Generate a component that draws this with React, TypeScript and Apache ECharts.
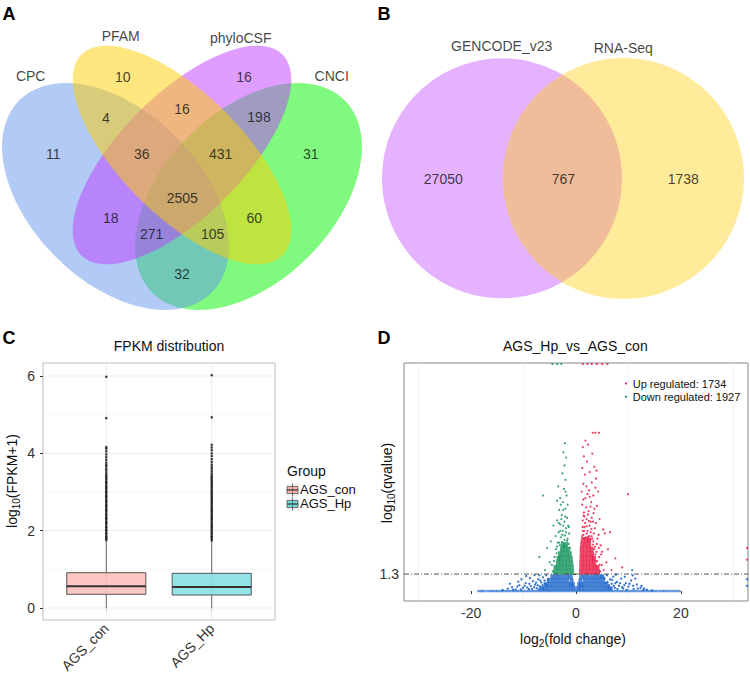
import React, { useEffect, useRef } from 'react';
import * as echarts from 'echarts';

const FONT = '"Liberation Sans", Arial, Helvetica, sans-serif';

// ---------- Panel A : four-set Venn ----------
const vennACategories = ['CPC', 'PFAM', 'phyloCSF', 'CNCI'];
const vennACounts = [11, 10, 16, 31, 4, 16, 198, 36, 431, 2505, 18, 60, 271, 105, 32];

// ---------- Panel B : two-set Venn ----------
const vennBCategories = ['GENCODE_v23', 'RNA-Seq'];
const vennBCounts = [27050, 767, 1738];

// ---------- Panel C : boxplot ----------
const boxCategories = ['AGS_con', 'AGS_Hp'];
const boxTitle = 'FPKM distribution';
// [lower whisker, q1, median, q3, upper whisker]
const boxStats = [
  [0, 0.354, 0.56, 0.913, 1.75],
  [0, 0.336, 0.543, 0.897, 1.74],
];
const conOutliers = [1.76, 1.8, 1.83, 1.87, 1.92, 1.95, 2.0, 2.03, 2.08, 2.11, 2.16, 2.2, 2.23, 2.28, 2.32, 2.35, 2.4, 2.43, 2.48, 2.52, 2.55, 2.6, 2.64, 2.67, 2.72, 2.76, 2.79, 2.84, 2.88, 2.91, 2.96, 3.0, 3.03, 3.08, 3.12, 3.15, 3.2, 3.24, 3.27, 3.32, 3.36, 3.4, 3.44, 3.49, 3.55, 3.6, 3.66, 3.7, 3.76, 3.83, 3.9, 3.97, 4.05, 4.12, 4.16, 4.91, 5.98];
const hpOutliers = [1.75, 1.79, 1.83, 1.86, 1.91, 1.95, 1.99, 2.03, 2.07, 2.11, 2.15, 2.19, 2.23, 2.27, 2.31, 2.35, 2.39, 2.43, 2.47, 2.51, 2.55, 2.59, 2.63, 2.67, 2.71, 2.75, 2.79, 2.83, 2.87, 2.91, 2.95, 2.99, 3.03, 3.07, 3.11, 3.15, 3.19, 3.23, 3.27, 3.31, 3.35, 3.39, 3.43, 3.48, 3.54, 3.6, 3.65, 3.71, 3.78, 3.85, 3.93, 4.0, 4.08, 4.15, 4.22, 4.93, 6.02];
const boxYTicks = [0, 2, 4, 6];

// ---------- Panel D : volcano ----------
const volcanoTitle = 'AGS_Hp_vs_AGS_con';
const volcanoLegend = ['Up regulated', 'Down regulated'];
const volcanoCounts = [1734, 1927];
const volcanoXTicks = [-20, 0, 20];
const volcanoThreshold = 1.3;

const upCore = [
  [0.95, 1.45], [1.6, 1.45], [2.25, 1.45], [2.9, 1.45], [3.55, 1.45], [4.2, 1.45],
  [1.0, 1.8], [1.65, 1.8], [2.3, 1.8], [2.95, 1.8], [3.6, 1.8], [4.1, 1.8],
  [1.0, 2.15], [1.65, 2.15], [2.3, 2.15], [2.95, 2.15], [3.5, 2.15],
  [1.05, 2.5], [1.7, 2.5], [2.35, 2.5], [3.0, 2.5], [3.45, 2.5],
  [1.1, 2.85], [1.75, 2.85], [2.4, 2.85], [3.05, 2.85],
  [1.1, 3.2], [1.75, 3.2], [2.4, 3.2], [2.95, 3.2],
  [1.2, 3.55], [1.85, 3.55], [2.5, 3.55],
  [1.3, 3.9], [1.95, 3.9], [2.5, 3.9],
];
const upPoints = [
  [4.6, 1.5], [4.9, 2.0], [4.4, 2.6], [3.9, 3.0], [3.6, 3.4], [3.3, 3.8], [3.0, 4.2], [2.8, 4.5], [1.4, 4.3], [2.2, 4.6],
  [3.4, 4.4], [4.1, 4.0], [1.6, 4.9], [2.6, 5.0], [3.8, 5.2], [1.3, 5.4], [2.0, 5.5], [3.0, 5.6], [4.5, 5.5], [5.2, 4.7],
  [1.5, 6.0], [2.4, 6.1], [3.5, 6.3], [1.2, 6.6], [2.9, 6.8], [4.0, 6.5], [1.8, 7.1], [3.3, 7.3], [1.1, 7.6], [2.5, 7.7],
  [4.2, 7.6], [1.4, 8.2], [3.0, 8.3], [3.8, 8.6], [1.7, 8.9], [2.6, 9.1], [1.2, 9.4], [3.5, 9.5], [2.1, 9.9], [1.5, 10.3],
  [3.1, 10.5], [1.3, 11.0], [2.3, 11.2], [1.8, 11.5], [3.2, 12.1], [3.7, 12.1], [4.4, 12.1], [6.5, 4.5], [5.5, 4.4], [8.8, 1.8],
  [9.9, 7.4], [5.0, 3.0], [5.8, 2.2], [6.8, 1.6], [4.7, 3.5], [5.3, 1.6], [6.1, 3.2], [7.5, 2.5], [1.9, 4.1], [2.7, 3.9],
  [1.6, 5.7], [2.8, 5.3], [3.6, 4.8], [1.3, 4.6], [2.2, 7.4], [3.9, 9.2],
  [1.25, 4.9], [2.05, 4.95], [2.95, 4.75], [3.25, 5.3], [1.75, 5.2], [2.45, 5.35], [1.45, 5.75], [2.25, 5.85], [3.35, 5.95],
  [1.95, 6.4], [2.75, 6.45], [4.3, 4.3], [4.8, 2.8], [4.35, 3.3], [3.95, 3.6], [3.7, 2.8], [4.0, 2.3], [4.5, 2.0], [1.55, 4.6],
  [2.05, 4.4], [2.55, 4.2], [3.1, 4.0], [1.5, 4.05], [2.3, 4.15], [1.15, 4.2], [3.45, 3.2], [3.2, 3.55], [1.4, 7.0], [2.6, 7.2],
  [3.7, 7.9], [2.0, 8.0], [1.3, 17.35], [2.2, 17.35], [3.0, 17.35], [4.0, 17.35], [5.0, 17.35], [6.0, 17.35], [32.6, 2.4], [32.6, 3.3],
];
const downCore = [
  [-0.75, 1.45], [-1.4, 1.45], [-2.05, 1.45], [-2.7, 1.45], [-3.35, 1.45], [-4.0, 1.45],
  [-0.8, 1.8], [-1.45, 1.8], [-2.1, 1.8], [-2.75, 1.8], [-3.4, 1.8], [-3.9, 1.8],
  [-0.9, 2.15], [-1.55, 2.15], [-2.2, 2.15], [-2.85, 2.15], [-3.45, 2.15],
  [-1.0, 2.5], [-1.65, 2.5], [-2.3, 2.5], [-2.95, 2.5], [-3.35, 2.5],
  [-1.2, 2.85], [-1.85, 2.85], [-2.5, 2.85], [-3.05, 2.85],
  [-1.5, 3.2], [-2.1, 3.2], [-2.7, 3.2],
  [-1.9, 3.55], [-2.5, 3.55],
];
const downPoints = [
  [-4.4, 1.5], [-4.6, 2.0], [-4.1, 2.6], [-3.8, 3.2], [-3.5, 3.7], [-2.2, 3.9], [-2.9, 4.1], [-1.6, 4.0], [-3.3, 4.5], [-2.5, 4.6],
  [-1.9, 4.8], [-3.0, 5.1], [-2.2, 5.3], [-3.6, 5.4], [-1.7, 5.6], [-2.7, 5.8], [-3.2, 6.2], [-2.0, 6.3], [-2.5, 6.8], [-3.0, 7.1],
  [-1.8, 7.3], [-2.3, 7.8], [-3.4, 8.0], [-2.0, 8.5], [-2.6, 9.0], [-2.2, 9.6], [-1.9, 10.2], [-2.4, 10.6], [-2.1, 11.3], [-6.3, 7.3],
  [-5.5, 3.3], [-5.0, 2.2], [-4.8, 3.8], [-5.9, 1.6], [-7.0, 2.6], [-4.3, 5.0], [-1.4, 3.6], [-2.6, 4.3], [-3.9, 4.2], [-1.3, 4.4],
  [-2.8, 5.5], [-1.5, 5.0], [-3.7, 2.9], [-4.2, 2.3], [-3.6, 3.4], [-3.2, 3.7], [-2.65, 3.75], [-1.7, 3.85], [-2.1, 4.25],
  [-3.0, 4.6], [-1.9, 4.5], [-2.45, 5.0], [-3.3, 5.2], [-2.05, 5.7], [-2.4, 6.2], [-1.6, 6.6], [-2.9, 6.6], [-3.6, 6.9], [-2.0, 7.6],
  [-1.15, 3.3], [-2.35, 3.45], [-3.05, 3.5], [-1.35, 4.9], [-4.5, 17.35], [-3.6, 17.35], [-2.8, 17.35],
];
const nsCore = [
  [-4.5, 1.1], [-3.8, 1.1], [-3.1, 1.1], [-2.4, 1.1], [-1.7, 1.1], [-1.0, 1.1], [1.0, 1.1], [1.7, 1.1], [2.4, 1.1], [3.1, 1.1], [3.8, 1.1], [4.5, 1.1], [5.0, 1.1],
  [-5.2, 0.8], [-4.5, 0.8], [-3.8, 0.8], [-3.1, 0.8], [-2.4, 0.8], [-1.7, 0.8], [-0.85, 0.8], [0.85, 0.8], [1.7, 0.8], [2.4, 0.8], [3.1, 0.8], [3.8, 0.8], [4.5, 0.8], [5.2, 0.8],
  [-5.8, 0.5], [-5.1, 0.5], [-4.4, 0.5], [-3.7, 0.5], [-3.0, 0.5], [-2.3, 0.5], [-1.6, 0.5], [-1.0, 0.5], [-0.6, 0.5], [0.6, 0.5], [1.0, 0.5], [1.6, 0.5], [2.3, 0.5], [3.0, 0.5], [3.7, 0.5], [4.4, 0.5], [5.1, 0.5], [5.8, 0.5],
  [-6.6, 0.2], [-5.9, 0.2], [-5.2, 0.2], [-4.5, 0.2], [-3.8, 0.2], [-3.1, 0.2], [-2.4, 0.2], [-1.7, 0.2], [-1.0, 0.2], [-0.4, 0.2], [0.4, 0.2], [1.0, 0.2], [1.7, 0.2], [2.4, 0.2], [3.1, 0.2], [3.8, 0.2], [4.5, 0.2], [5.2, 0.2], [5.9, 0.2], [6.6, 0.2],
];
const nsBaseline = [-18.3, -17.6, -16.5, -15.6, -14.7, -13.8, -12.8, -11.8, -10.8, -9.8, -8.8, -7.8, -6.8, -5.8, -4.8, -3.8, -2.8, -1.8, -0.8, 0.2, 1.2, 2.2, 3.2, 4.2, 5.2, 6.2, 7.2, 8.2, 9.2, 10.2, 11.2, 12.2, 13.2, 14.2, 15.2, 16.3, 17.2, 18.3, 19.4];
const nsPoints = [
  [-14.0, 0.08], [-13.0, 0.18], [-12.2, 0.3], [-11.5, 0.12], [-10.8, 0.45], [-10.1, 0.25], [-9.6, 0.6], [-9.0, 0.15], [-8.6, 0.38], [-8.2, 0.75],
  [-7.8, 0.5], [-7.5, 0.22], [-7.2, 0.9], [-6.9, 0.35], [-6.6, 0.65], [-6.3, 1.05], [-6.0, 0.8], [-5.7, 1.2], [-5.5, 0.42], [-5.3, 0.95],
  [-7.0, 1.2], [-8.8, 1.0], [-11.0, 0.72], [-9.5, 1.15], [-12.6, 0.55], [-10.4, 0.9], [-7.9, 1.22],
  [-12.0, 0.1], [-11.2, 0.35], [-10.5, 0.12], [-9.8, 0.4], [-9.3, 0.28], [-8.9, 0.55], [-8.4, 0.15], [-8.0, 0.3], [-7.6, 0.65],
  [-7.3, 0.45], [-7.1, 0.12], [-6.8, 0.8], [-6.4, 0.45], [-6.2, 0.2], [-5.9, 0.55],
  [5.4, 1.0], [5.6, 0.6], [5.9, 1.2], [6.2, 0.3], [6.5, 0.9], [6.8, 0.55], [7.1, 1.1], [7.4, 0.25], [7.8, 0.7], [8.2, 0.4],
  [8.6, 0.95], [9.0, 0.2], [9.5, 0.6], [10.0, 0.35], [10.5, 0.8], [11.0, 0.15], [11.6, 0.5], [12.3, 0.25], [12.8, 0.1], [7.6, 1.25],
  [9.3, 1.1], [10.8, 1.2], [11.3, 0.95], [13.5, 0.1], [10.7, 1.6],
  [6.0, 0.7], [6.3, 0.45], [6.6, 0.15], [6.9, 0.85], [7.2, 0.4], [7.5, 0.6], [7.9, 0.15], [8.4, 0.6], [8.8, 0.3], [9.2, 0.45],
  [9.7, 0.1], [10.2, 0.55], [10.9, 0.4], [11.8, 0.2], [12.5, 0.4], [13.0, 0.2], [14.5, 0.05], [32.6, 0.4], [32.6, 0.9],
];

// ---------- layout (positions in page pixels, not data) ----------
const vennACountPos = [[53.3, 154], [122.7, 77.3], [244, 77.3], [310.7, 154], [106, 118], [182, 108.7], [259, 117.3], [141.7, 154], [220.7, 154], [182.3, 198.3], [110.7, 218.3], [254.3, 218.3], [151.7, 234.3], [212.7, 234.3], [182, 274.3]];
const vennACatPos = [[30.7, 76], [120.7, 36], [240.7, 37.7], [331.7, 76]];
// draw order: CNCI, CPC, phyloCSF, PFAM  [cx, cy, semi-major, semi-minor, angle]
const vennAShapes = [[248.5, 196.5, 136, 85, -45], [115.5, 196.5, 136, 85, 45], [182, 155, 142, 61, -45], [182, 155, 142, 61, 45]];
const vennAColors = ['rgba(0,245,0,0.5)', 'rgba(100,149,237,0.5)', 'rgba(191,62,255,0.5)', 'rgba(255,205,0,0.5)'];
const vennBShapes = [[502, 178.3, 120], [623.4, 178.5, 120.5]];
const vennBColors = ['rgba(191,62,255,0.4)', 'rgba(255,205,0,0.4)'];
const vennBCountPos = [[443.3, 179], [563.3, 179], [683.3, 179]];
const vennBCatPos = [[501.7, 46], [623.3, 48.3]];

const C_X = [0.4, 2.6];
const C_Y = [-0.31, 6.336];
const D_X = [-32.8, 32.8];
const D_Y = [-0.76, 17.43];

const UP = '#EB1C46';
const DOWN = '#17955E';
const NS = '#1C65CB';
const boxFills = ['rgba(248,118,109,0.42)', 'rgba(0,191,196,0.42)'];

function lineSeries(axis: number, items: number[][], xr: number[], yr: number[], styles: any[], z: number) {
  return {
    type: 'custom', xAxisIndex: axis, yAxisIndex: axis, z, silent: true,
    data: items,
    renderItem: (_p: any, api: any) => {
      const v = api.value(0), o = api.value(1), k = api.value(2);
      const p1 = o === 0 ? api.coord([xr[0], v]) : api.coord([v, yr[0]]);
      const p2 = o === 0 ? api.coord([xr[1], v]) : api.coord([v, yr[1]]);
      return { type: 'line', shape: { x1: p1[0], y1: p1[1], x2: p2[0], y2: p2[1] }, style: styles[k] };
    },
  };
}

function txt(x: number, y: number, text: string, size: number, extra: any = {}, rot = 0) {
  return {
    type: 'text', x, y, rotation: rot, silent: true, z: 100,
    style: { text, fontSize: size, fontFamily: FONT, fill: '#111', align: 'center', verticalAlign: 'middle', textAlign: 'center', textVerticalAlign: 'middle', ...extra },
  };
}

function axisTitle(x: number, y: number, main: string, sub: string, rest: string, rot: number) {
  return {
    type: 'text', x, y, rotation: rot, silent: true, z: 100,
    style: {
      text: `{a|${main}}{s|${sub}}{a|${rest}}`,
      align: 'center', verticalAlign: 'middle', textAlign: 'center', textVerticalAlign: 'middle',
      rich: {
        a: { fontSize: 14, fontFamily: FONT, fill: '#111' },
        s: { fontSize: 10, fontFamily: FONT, fill: '#111', padding: [8, 0, 0, 0] },
      },
    },
  };
}

function buildOption() {
  const vennLabelData = [
    ...vennACounts.map((c, i) => ({ value: vennACountPos[i], name: String(c) })),
    ...vennACategories.map((c, i) => ({ value: vennACatPos[i], name: c })),
    ...vennBCounts.map((c, i) => ({ value: vennBCountPos[i], name: String(c) })),
    ...vennBCategories.map((c, i) => ({ value: vennBCatPos[i], name: c })),
  ];

  const axisLabelBase = { fontSize: 14, color: '#333', fontFamily: FONT };
  const tickBase = { length: 3, lineStyle: { color: '#333', width: 1 } };

  const cGrid = [
    ...boxYTicks.map((v) => [v, 0, 0]),
    [1, 0, 1], [3, 0, 1], [5, 0, 1],
    [1, 1, 0], [2, 1, 0],
  ];
  const dGrid = [[-30, 1, 0], [-10, 1, 0], [10, 1, 0], [30, 1, 0]];

  return {
    animation: false,
    backgroundColor: '#fff',
    textStyle: { fontFamily: FONT },
    grid: [
      { left: 0, top: 0, width: 750, height: 330, show: false, outerBoundsMode: 'none' },
      { left: 43, top: 363, width: 232, height: 257, show: true, borderColor: '#bdbdbd', borderWidth: 1, backgroundColor: '#fff', outerBoundsMode: 'none' },
      { left: 404, top: 363, width: 344, height: 238, show: true, borderColor: '#858585', borderWidth: 1, backgroundColor: '#fff', outerBoundsMode: 'none' },
    ],
    xAxis: [
      { gridIndex: 0, type: 'value', min: 0, max: 750, show: false },
      {
        gridIndex: 1, type: 'value', min: C_X[0], max: C_X[1],
        axisLine: { show: false }, splitLine: { show: false },
        axisTick: { show: true, customValues: [1, 2], ...tickBase },
        axisLabel: { ...axisLabelBase, customValues: [1, 2], rotate: 45, margin: 6, formatter: (v: number) => boxCategories[Math.round(v) - 1] },
      },
      {
        gridIndex: 2, type: 'value', min: D_X[0], max: D_X[1],
        axisLine: { show: false }, splitLine: { show: false },
        axisTick: { show: true, customValues: volcanoXTicks, ...tickBase },
        axisLabel: { ...axisLabelBase, customValues: volcanoXTicks, margin: 5, formatter: (v: number) => String(v) },
      },
    ],
    yAxis: [
      { gridIndex: 0, type: 'value', min: 0, max: 330, inverse: true, show: false },
      {
        gridIndex: 1, type: 'value', min: C_Y[0], max: C_Y[1],
        axisLine: { show: false }, splitLine: { show: false },
        axisTick: { show: true, customValues: boxYTicks, ...tickBase },
        axisLabel: { ...axisLabelBase, customValues: boxYTicks, margin: 8, formatter: (v: number) => String(v) },
      },
      {
        gridIndex: 2, type: 'value', min: D_Y[0], max: D_Y[1],
        axisLine: { show: false }, splitLine: { show: false },
        axisTick: { show: true, customValues: [volcanoThreshold], ...tickBase },
        axisLabel: { ...axisLabelBase, customValues: [volcanoThreshold], margin: 5, formatter: (v: number) => v.toFixed(1) },
      },
    ],
    series: [
      // Venn A ellipses
      {
        type: 'custom', xAxisIndex: 0, yAxisIndex: 0, silent: true, z: 1,
        data: vennAShapes,
        renderItem: (params: any, api: any) => {
          const cx = api.value(0), cy = api.value(1), a = api.value(2), b = api.value(3);
          const ang = (api.value(4) * Math.PI) / 180;
          const pts: number[][] = [];
          for (let k = 0; k < 160; k++) {
            const t = (k / 160) * Math.PI * 2;
            const dx = a * Math.cos(t) * Math.cos(ang) - b * Math.sin(t) * Math.sin(ang);
            const dy = a * Math.cos(t) * Math.sin(ang) + b * Math.sin(t) * Math.cos(ang);
            pts.push(api.coord([cx + dx, cy + dy]));
          }
          return { type: 'polygon', shape: { points: pts }, style: { fill: vennAColors[params.dataIndex], stroke: 'none' } };
        },
      },
      // Venn B circles
      {
        type: 'custom', xAxisIndex: 0, yAxisIndex: 0, silent: true, z: 1,
        data: vennBShapes,
        renderItem: (params: any, api: any) => {
          const c = api.coord([api.value(0), api.value(1)]);
          const r = api.size([api.value(2), 0])[0];
          return { type: 'circle', shape: { cx: c[0], cy: c[1], r }, style: { fill: vennBColors[params.dataIndex], stroke: 'none' } };
        },
      },
      // Venn labels
      {
        type: 'scatter', xAxisIndex: 0, yAxisIndex: 0, z: 5, silent: true,
        symbolSize: 0.1, itemStyle: { color: 'transparent' },
        label: { show: true, position: 'inside', formatter: '{b}', fontSize: 14, color: '#111', fontFamily: FONT },
        data: vennLabelData,
      },
      // C grid lines
      lineSeries(1, cGrid, C_X, C_Y, [
        { stroke: '#ebebeb', lineWidth: 1 },
        { stroke: '#f4f4f4', lineWidth: 0.6 },
      ], 1),
      // C boxes
      {
        type: 'custom', xAxisIndex: 1, yAxisIndex: 1, z: 3, silent: true,
        data: boxStats.map((s, i) => [i + 1, ...s]),
        renderItem: (params: any, api: any) => {
          const x = api.value(0);
          const lo = api.coord([x, api.value(1)]);
          const q1 = api.coord([x, api.value(2)]);
          const md = api.coord([x, api.value(3)]);
          const q3 = api.coord([x, api.value(4)]);
          const hi = api.coord([x, api.value(5)]);
          const w = api.size([0.75, 0])[0];
          return {
            type: 'group',
            children: [
              { type: 'line', shape: { x1: lo[0], y1: lo[1], x2: q1[0], y2: q1[1] }, style: { stroke: '#666', lineWidth: 1 } },
              { type: 'line', shape: { x1: q3[0], y1: q3[1], x2: hi[0], y2: hi[1] }, style: { stroke: '#666', lineWidth: 1 } },
              { type: 'rect', shape: { x: q3[0] - w / 2, y: q3[1], width: w, height: q1[1] - q3[1] }, style: { fill: boxFills[params.dataIndex], stroke: '#555', lineWidth: 1 } },
              { type: 'line', shape: { x1: md[0] - w / 2, y1: md[1], x2: md[0] + w / 2, y2: md[1] }, style: { stroke: '#333', lineWidth: 2 } },
            ],
          };
        },
      },
      // C outliers
      {
        type: 'scatter', xAxisIndex: 1, yAxisIndex: 1, z: 4, silent: true,
        symbol: 'circle', symbolSize: 2.6, itemStyle: { color: '#111' },
        data: [...conOutliers.map((v) => [1, v]), ...hpOutliers.map((v) => [2, v])],
      },
      // D grid lines
      lineSeries(2, dGrid, D_X, D_Y, [{ stroke: '#f0f0f0', lineWidth: 0.8 }], 1),
      // D not-significant
      {
        type: 'scatter', xAxisIndex: 2, yAxisIndex: 2, z: 2, silent: true,
        symbol: 'rect', symbolSize: [5.6, 2.4], itemStyle: { color: '#3f7fd6' },
        data: nsBaseline.map((x) => [x, 0]),
      },
      {
        type: 'scatter', xAxisIndex: 2, yAxisIndex: 2, z: 2, silent: true,
        symbol: 'rect', symbolSize: [4, 4.5], itemStyle: { color: NS },
        data: nsCore,
      },
      {
        type: 'scatter', xAxisIndex: 2, yAxisIndex: 2, z: 2, silent: true,
        symbol: 'circle', symbolSize: 2.3, itemStyle: { color: NS, opacity: 0.9 },
        data: nsPoints,
      },
      // D down
      {
        type: 'scatter', xAxisIndex: 2, yAxisIndex: 2, z: 3, silent: true,
        symbol: 'rect', symbolSize: [4, 5], itemStyle: { color: DOWN },
        data: downCore,
      },
      {
        type: 'scatter', xAxisIndex: 2, yAxisIndex: 2, z: 3, silent: true,
        symbol: 'circle', symbolSize: 2.2, itemStyle: { color: DOWN, opacity: 0.85 },
        data: downPoints,
      },
      // D up
      {
        type: 'scatter', xAxisIndex: 2, yAxisIndex: 2, z: 3, silent: true,
        symbol: 'rect', symbolSize: [4, 5], itemStyle: { color: UP },
        data: upCore,
      },
      {
        type: 'scatter', xAxisIndex: 2, yAxisIndex: 2, z: 3, silent: true,
        symbol: 'circle', symbolSize: 2.2, itemStyle: { color: UP, opacity: 0.85 },
        data: upPoints,
      },
      // D threshold line
      lineSeries(2, [[volcanoThreshold, 0, 0]], D_X, D_Y, [{ stroke: '#444', lineWidth: 0.9, lineDash: [5, 2, 1, 2] }], 10),
    ],
    graphic: [
      txt(9, 14, 'A', 18, { fontWeight: 'bold', fill: '#000' }),
      txt(384, 14, 'B', 18, { fontWeight: 'bold', fill: '#000' }),
      txt(9, 338, 'C', 18, { fontWeight: 'bold', fill: '#000' }),
      txt(384, 338, 'D', 18, { fontWeight: 'bold', fill: '#000' }),
      txt(169, 346, boxTitle, 14),
      txt(575.3, 346, volcanoTitle, 14),
      axisTitle(12, 481, 'log', '10', '(FPKM+1)', Math.PI / 2),
      axisTitle(387, 483, 'log', '10', '(qvalue)', Math.PI / 2),
      axisTitle(573, 639, 'log', '2', '(fold change)', 0),
      // C legend
      txt(287, 471, 'Group', 14, { align: 'left', textAlign: 'left' }),
      ...boxCategories.flatMap((c, i) => {
        const y = 490 + i * 14;
        return [
          { type: 'rect', z: 99, silent: true, shape: { x: 286, y: y - 6.5, width: 13, height: 13 }, style: { fill: '#f2f2f2' } },
          { type: 'line', z: 100, silent: true, shape: { x1: 292.5, y1: y - 6.5, x2: 292.5, y2: y + 6.5 }, style: { stroke: '#666', lineWidth: 1 } },
          { type: 'rect', z: 100, silent: true, shape: { x: 287, y: y - 3.5, width: 11, height: 7 }, style: { fill: boxFills[i].replace('0.42', '0.5'), stroke: '#555', lineWidth: 0.8 } },
          { type: 'line', z: 101, silent: true, shape: { x1: 287, y1: y, x2: 298, y2: y }, style: { stroke: '#333', lineWidth: 1.2 } },
          txt(300, y - 0.5, c, 13, { align: 'left', textAlign: 'left' }),
        ];
      }),
      // D legend
      ...volcanoLegend.flatMap((l, i) => {
        const y = 383.5 + i * 13.3;
        return [
          { type: 'circle', z: 100, silent: true, shape: { cx: 626, cy: y, r: 1.1 }, style: { fill: i === 0 ? UP : DOWN } },
          txt(632.7, y, `${l}: ${volcanoCounts[i]}`, 11, { align: 'left', textAlign: 'left' }),
        ];
      }),
    ],
  };
}

export default function App() {
  const ref = useRef<HTMLDivElement>(null);
  useEffect(() => {
    document.body.style.margin = '0';
    const chart = echarts.init(ref.current as HTMLDivElement, undefined, { renderer: 'svg' });
    chart.setOption(buildOption() as any);
    return () => chart.dispose();
  }, []);
  return <div ref={ref} style={{ position: 'absolute', left: 0, top: 0, width: 750, height: 679, background: '#fff' }} />;
}
